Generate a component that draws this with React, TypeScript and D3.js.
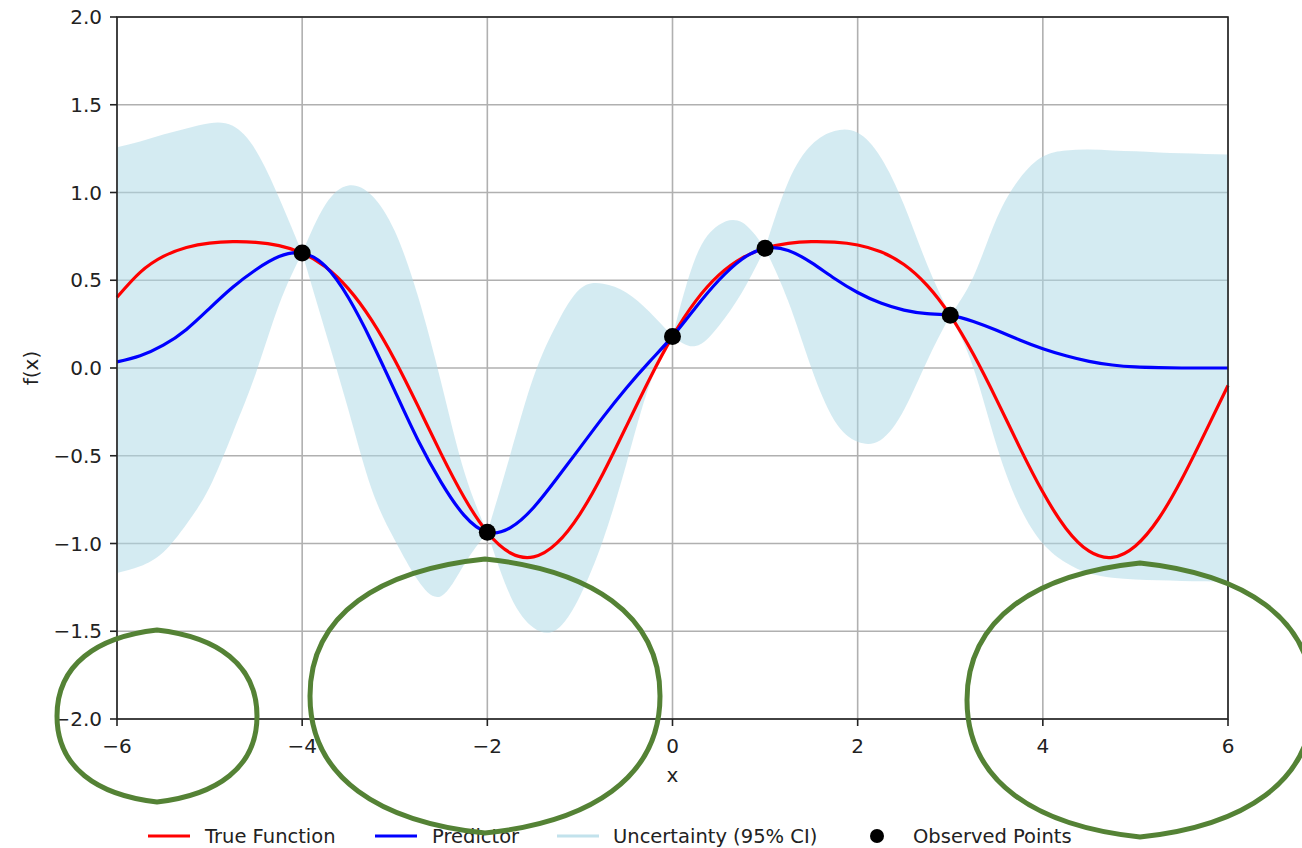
import React from 'react';
import * as d3 from 'd3';

// sample positions along x
const xs = [
  -6, -5.75, -5.5, -5.25, -5, -4.75, -4.5, -4.25, -4, -3.75, -3.5, -3.25, -3, -2.75, -2.5, -2.25,
  -2, -1.75, -1.5, -1.25, -1, -0.75, -0.5, -0.25, 0, 0.25, 0.5, 0.75, 1, 1.25, 1.5, 1.75,
  2, 2.25, 2.5, 2.75, 3, 3.25, 3.5, 3.75, 4, 4.25, 4.5, 4.75, 5, 5.25, 5.5, 5.75, 6,
];

// True function (red)
const trueValues = [
  0.403, 0.545, 0.636, 0.687, 0.712, 0.72, 0.716, 0.697, 0.655, 0.577, 0.451, 0.273, 0.046, -0.216, -0.488, -0.738,
  -0.936, -1.054, -1.076, -0.998, -0.832, -0.601, -0.334, -0.065, 0.18, 0.381, 0.529, 0.626, 0.682, 0.71, 0.72, 0.717,
  0.701, 0.662, 0.59, 0.471, 0.3, 0.078, -0.18, -0.452, -0.707, -0.914, -1.044, -1.079, -1.014, -0.859, -0.634, -0.371, -0.1,
];

// Predictor (blue)
const predValues = [
  0.035, 0.07, 0.13, 0.22, 0.34, 0.46, 0.56, 0.635, 0.655, 0.58, 0.4, 0.15, -0.13, -0.41, -0.65, -0.84,
  -0.936, -0.91, -0.795, -0.63, -0.455, -0.28, -0.115, 0.035, 0.18, 0.345, 0.5, 0.62, 0.682, 0.67, 0.6, 0.51,
  0.43, 0.37, 0.33, 0.31, 0.3, 0.265, 0.215, 0.16, 0.11, 0.07, 0.038, 0.017, 0.006, 0.002, 0, 0, 0,
];

// 95% CI upper / lower
const upperValues = [
  1.258, 1.29, 1.33, 1.365, 1.395, 1.38, 1.24, 0.97, 0.655, 0.93, 1.04, 0.985, 0.78, 0.41, -0.08, -0.59,
  -0.936, -0.49, -0.05, 0.25, 0.45, 0.48, 0.43, 0.32, 0.18, 0.63, 0.815, 0.83, 0.682, 1.06, 1.27, 1.35,
  1.34, 1.2, 0.93, 0.59, 0.3, 0.52, 0.85, 1.08, 1.205, 1.24, 1.245, 1.24, 1.235, 1.228, 1.224, 1.22, 1.217,
];
const lowerValues = [
  -1.168, -1.13, -1.05, -0.89, -0.68, -0.37, -0.03, 0.36, 0.655, 0.21, -0.24, -0.69, -0.98, -1.21, -1.3, -1.12,
  -0.936, -1.3, -1.48, -1.49, -1.3, -0.98, -0.55, -0.1, 0.18, 0.125, 0.24, 0.43, 0.682, 0.38, 0.0, -0.3,
  -0.42, -0.41, -0.24, 0.04, 0.3, 0.0, -0.44, -0.79, -1.0, -1.11, -1.17, -1.195, -1.205, -1.21, -1.213, -1.215, -1.217,
];

// Observed points
const obsX = [-4, -2, 0, 1, 3];
const obsY = [0.655, -0.936, 0.18, 0.682, 0.3];

const xTicks = [-6, -4, -2, 0, 2, 4, 6];
const yTicks = [-2, -1.5, -1, -0.5, 0, 0.5, 1, 1.5, 2];
const legendLabels = ['True Function', 'Predictor', 'Uncertainty (95% CI)', 'Observed Points'];

const FONT = "'DejaVu Sans', 'Liberation Sans', sans-serif";

function lemon(cx: number, cy: number, rx: number, ry: number) {
  const k = 0.6;
  const d = 0.08 * ry;
  return [
    `M${cx},${cy - ry}`,
    `C${cx + k * rx},${cy - ry + d} ${cx + rx},${cy - k * ry} ${cx + rx},${cy}`,
    `C${cx + rx},${cy + k * ry} ${cx + k * rx},${cy + ry - d} ${cx},${cy + ry}`,
    `C${cx - k * rx},${cy + ry - d} ${cx - rx},${cy + k * ry} ${cx - rx},${cy}`,
    `C${cx - rx},${cy - k * ry} ${cx - k * rx},${cy - ry + d} ${cx},${cy - ry}Z`,
  ].join(' ');
}

export default function App() {
  const W = 1302;
  const H = 848;
  const L = 117, R = 1228, T = 17, B = 719;
  const x = d3.scaleLinear().domain([-6, 6]).range([L, R]);
  const y = d3.scaleLinear().domain([-2, 2]).range([B, T]);
  const fmtY = d3.format('.1f');
  const fmtX = d3.format('d');

  const pts = xs.map((v, i) => ({ x: v, t: trueValues[i], p: predValues[i], hi: upperValues[i], lo: lowerValues[i] }));
  const breaks = [-6, ...obsX, 6];
  const area = d3
    .area<any>()
    .x((d) => x(d.x))
    .y0((d) => y(d.lo))
    .y1((d) => y(d.hi))
    .curve(d3.curveNatural);
  const bands = breaks.slice(0, -1).map((a, k) => area(pts.filter((d) => d.x >= a && d.x <= breaks[k + 1])) || '');

  const trueLine = d3.line<any>().x((d) => x(d.x)).y((d) => y(d.t)).curve(d3.curveNatural)(pts) || '';
  const predLine = d3.line<any>().x((d) => x(d.x)).y((d) => y(d.p)).curve(d3.curveNatural)(pts) || '';

  const legendY = 836;
  const legendItems = [
    { x0: 148, tx: 205 },
    { x0: 375, tx: 432 },
    { x0: 557, tx: 613 },
    { x0: 856, tx: 913 },
  ];

  return (
    <svg
      width={W}
      height={H}
      style={{ position: 'absolute', left: 0, top: 0, background: '#fff' }}
      fontFamily={FONT}
    >
      <rect x={0} y={0} width={W} height={H} fill="#fff" />
      {/* grid */}
      <g stroke="#b0b0b0" strokeWidth={1.6}>
        {xTicks.map((t) => (
          <line key={'gx' + t} x1={x(t)} x2={x(t)} y1={T} y2={B} />
        ))}
        {yTicks.map((t) => (
          <line key={'gy' + t} x1={L} x2={R} y1={y(t)} y2={y(t)} />
        ))}
      </g>
      {/* uncertainty band */}
      <g fill="#add8e6" fillOpacity={0.52}>
        {bands.map((d, i) => (
          <path key={'b' + i} d={d} />
        ))}
      </g>
      <path d={trueLine} fill="none" stroke="#ff0000" strokeWidth={3.2} />
      <path d={predLine} fill="none" stroke="#0000ff" strokeWidth={3.2} />
      {obsX.map((v, i) => (
        <circle key={'o' + i} cx={x(v)} cy={y(obsY[i])} r={8.5} fill="#000" />
      ))}
      {/* spines */}
      <rect x={L} y={T} width={R - L} height={B - T} fill="none" stroke="#222" strokeWidth={1.6} />
      {/* x ticks */}
      {xTicks.map((t) => (
        <g key={'xt' + t}>
          <line x1={x(t)} x2={x(t)} y1={B} y2={B + 7} stroke="#222" strokeWidth={1.6} />
          <text x={x(t)} y={753} textAnchor="middle" fontSize={20} fill="#222">
            {fmtX(t)}
          </text>
        </g>
      ))}
      {/* y ticks */}
      {yTicks.map((t) => (
        <g key={'yt' + t}>
          <line x1={L - 7} x2={L} y1={y(t)} y2={y(t)} stroke="#222" strokeWidth={1.6} />
          <text x={102} y={y(t)} dy="0.36em" textAnchor="end" fontSize={20} fill="#222">
            {fmtY(t)}
          </text>
        </g>
      ))}
      <text x={(L + R) / 2} y={782} textAnchor="middle" fontSize={20} fill="#222">
        x
      </text>
      <text transform={`translate(38,${(T + B) / 2}) rotate(-90)`} textAnchor="middle" fontSize={20} fill="#222">
        f(x)
      </text>
      {/* legend */}
      <g fontSize={19.5} fill="#222">
        <line x1={legendItems[0].x0} x2={legendItems[0].x0 + 42} y1={legendY} y2={legendY} stroke="#ff0000" strokeWidth={3} />
        <line x1={legendItems[1].x0} x2={legendItems[1].x0 + 42} y1={legendY} y2={legendY} stroke="#0000ff" strokeWidth={3} />
        <line x1={legendItems[2].x0} x2={legendItems[2].x0 + 42} y1={legendY} y2={legendY} stroke="#add8e6" strokeOpacity={0.75} strokeWidth={3} />
        <circle cx={legendItems[3].x0 + 21} cy={legendY} r={7} fill="#000" />
        {legendLabels.map((lab, i) => (
          <text key={lab} x={legendItems[i].tx} y={legendY} dy="0.36em">
            {lab}
          </text>
        ))}
      </g>
      {/* hand-drawn annotations */}
      <g fill="none" stroke="#548235" strokeWidth={5} strokeLinejoin="miter">
        <path d={lemon(157, 716, 100, 86)} />
        <path d={lemon(485, 696, 175, 137)} />
        <path d={lemon(1140, 700, 173, 137)} />
      </g>
    </svg>
  );
}
